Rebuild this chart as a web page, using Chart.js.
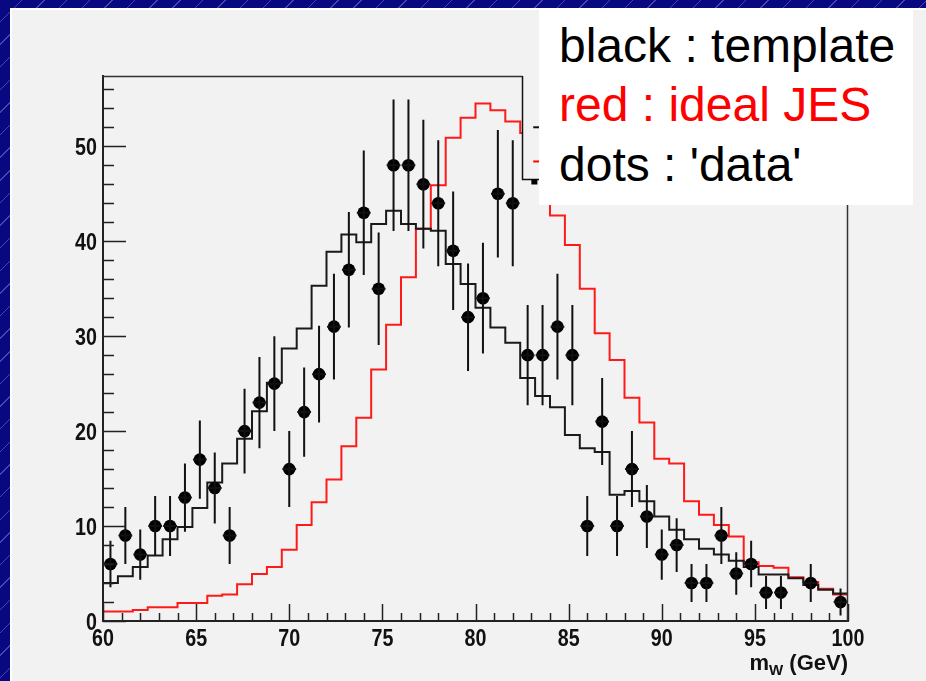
<!DOCTYPE html>
<html>
<head>
<meta charset="utf-8">
<script src="https://cdn.jsdelivr.net/npm/chart.js@4.4.0/dist/chart.umd.min.js"></script>
<style>
  html, body { margin: 0; padding: 0; width: 926px; height: 681px; overflow: hidden; }
  body {
    position: relative;
    background-color: #080880;
    background-image: repeating-linear-gradient(135deg, rgba(0,0,0,0) 0px, rgba(0,0,0,0) 15px, rgba(150,150,225,0.45) 15px, rgba(150,150,225,0.45) 16px);
  }
  #panel { position: absolute; left: 10px; top: 8px; right: 0; bottom: 0; background: #f2f2f2; border-top: 2px solid #fff; border-left: 2px solid #fff; }
  #wrap { position: absolute; left: 0; top: 0; width: 926px; height: 681px; }
  #note { position: absolute; left: 539px; top: 9px; width: 374px; height: 196px; background: #fff; font-family: "Liberation Sans", Arial, sans-serif; font-size: 48px; }
  #note div { position: absolute; left: 20px; line-height: 48px; white-space: nowrap; }
</style>
</head>
<body>
<div id="panel"></div>
<div id="wrap"><canvas id="histChart" width="926" height="681"></canvas></div>
<div id="note">
  <div style="top:13px;color:#000">black : template</div>
  <div style="top:72px;color:#ff0000">red : ideal JES</div>
  <div style="top:132px;color:#000">dots : 'data'</div>
</div>
<script>
// binning: 50 bins of 0.8 GeV between 60 and 100
const binLow = 60, binWidth = 0.8, nBins = 50;

// black histogram (template)
const templateVals = [4.0, 4.7, 5.7, 6.9, 8.6, 9.9, 11.9, 14.6, 16.6, 19.2,
  22.1, 25.1, 28.7, 30.8, 35.3, 38.9, 40.7, 39.9, 41.8, 43.2,
  41.8, 41.3, 41.1, 37.6, 35.5, 33.0, 30.9, 29.3, 25.6, 23.7,
  22.5, 19.6, 18.2, 17.8, 13.3, 13.7, 12.6, 11.0, 9.6, 8.6,
  7.6, 7.0, 6.35, 5.7, 4.9, 4.9, 4.5, 3.8, 3.3, 2.9];

// red histogram (ideal JES)
const idealVals = [1.0, 1.0, 1.16, 1.44, 1.44, 1.9, 1.9, 2.67, 2.8, 3.86,
  4.95, 5.7, 7.5, 10.1, 12.5, 14.9, 18.4, 21.4, 26.5, 31.2,
  36.2, 41.3, 45.9, 50.9, 53.0, 54.5, 53.8, 52.6, 51.4, 47.5,
  42.7, 39.6, 35.0, 30.3, 27.5, 23.5, 20.9, 17.1, 16.6, 12.6,
  11.2, 10.1, 8.9, 6.2, 5.8, 5.6, 4.6, 4.1, 3.4, 2.8];

// 'data' points and their errors (empty bins = null)
const dataVals = [6, 9, 7, 10, 10, 13, 17, 14, 9, 20,
  23, 25, 16, 22, 26, 31, 37, 43, 35, 48,
  48, 46, 44, 39, 32, 34, 45, 44, 28, 28,
  31, 28, 10, 21, 10, 16, 11, 7, 8, 4,
  4, 9, 5, 6, 3, 3, null, 4, null, 2];
const dataErrs = [2.45, 3.0, 2.65, 3.16, 3.16, 3.6, 4.12, 3.74, 3.0, 4.47,
  4.8, 5.0, 4.0, 4.69, 5.1, 5.57, 6.08, 6.56, 5.92, 6.93,
  6.93, 6.78, 6.63, 6.24, 5.66, 5.83, 6.71, 6.63, 5.29, 5.29,
  5.57, 5.29, 3.16, 4.58, 3.16, 4.0, 3.32, 2.65, 2.83, 2.0,
  2.0, 3.0, 2.24, 2.45, 1.73, 1.73, null, 2.0, null, 1.41];

const xTicks = [60, 65, 70, 75, 80, 85, 90, 95, 100];
const yTicks = [0, 10, 20, 30, 40, 50];
const yMax = 57.4;

const labelFont = "'Liberation Sans', Arial, sans-serif";

function histPoints(vals) {
    const pts = vals.map((v, i) => ({ x: binLow + i * binWidth, y: v }));
    pts.push({ x: binLow + nBins * binWidth, y: vals[vals.length - 1] });
    return pts;
}

const dataPoints = dataVals.map((v, i) => ({ x: binLow + (i + 0.5) * binWidth, y: v, err: dataErrs[i] }));

// narrow bold label like the root canvas
function narrowText(ctx, text, x, y, align) {
    ctx.save();
    ctx.translate(x, y);
    ctx.scale(0.82, 1);
    ctx.textAlign = align;
    ctx.fillText(text, 0, 0);
    ctx.restore();
}

// frame, inner tick marks, error bars, labels and the covered root legend
const rootStyle = {
    id: 'rootStyle',
    afterDatasetsDraw(chart) {
        const ctx = chart.ctx, xs = chart.scales.x, ys = chart.scales.y, area = chart.chartArea;
        ctx.save();
        // error bars
        ctx.strokeStyle = '#111';
        ctx.lineWidth = 2;
        dataPoints.forEach(p => {
            if (p.y === null) return;
            const px = xs.getPixelForValue(p.x);
            ctx.beginPath();
            ctx.moveTo(px, ys.getPixelForValue(p.y - p.err));
            ctx.lineTo(px, ys.getPixelForValue(p.y + p.err));
            ctx.moveTo(xs.getPixelForValue(p.x - 0.37), ys.getPixelForValue(p.y));
            ctx.lineTo(xs.getPixelForValue(p.x + 0.37), ys.getPixelForValue(p.y));
            ctx.stroke();
        });
        // ticks inside the frame
        ctx.strokeStyle = '#222';
        ctx.lineWidth = 1.5;
        ctx.beginPath();
        for (let v = 60; v <= 100; v++) {
            const px = Math.round(xs.getPixelForValue(v)) + 0.5;
            const len = v % 5 === 0 ? 17 : 8;
            ctx.moveTo(px, area.bottom);
            ctx.lineTo(px, area.bottom - len);
        }
        for (let v = 0; v <= 56; v += 2) {
            const py = Math.round(ys.getPixelForValue(v)) + 0.5;
            const len = v % 10 === 0 ? 23 : 11;
            ctx.moveTo(area.left, py);
            ctx.lineTo(area.left + len, py);
        }
        ctx.stroke();
        // frame top and right
        ctx.strokeStyle = '#333';
        ctx.beginPath();
        ctx.moveTo(area.left, area.top + 0.5);
        ctx.lineTo(area.right, area.top + 0.5);
        ctx.moveTo(area.right - 0.5, area.top);
        ctx.lineTo(area.right - 0.5, area.bottom);
        ctx.stroke();
        // root legend box hiding the top right corner
        const lx = Math.round(xs.getPixelForValue(82.5)) + 0.5;
        const ly = Math.round(ys.getPixelForValue(46.6)) + 0.5;
        ctx.fillStyle = '#f2f2f2';
        ctx.fillRect(lx, area.top - 2, area.right + 40 - lx, ly - area.top + 2);
        ctx.strokeStyle = '#111';
        ctx.beginPath();
        ctx.moveTo(lx, area.top);
        ctx.lineTo(lx, ly);
        ctx.lineTo(area.right + 40, ly);
        ctx.stroke();
        ctx.lineWidth = 2;
        ctx.beginPath();
        ctx.moveTo(xs.getPixelForValue(83.1), ys.getPixelForValue(52.0));
        ctx.lineTo(xs.getPixelForValue(84), ys.getPixelForValue(52.0));
        ctx.stroke();
        ctx.strokeStyle = '#ff0000';
        ctx.beginPath();
        ctx.moveTo(xs.getPixelForValue(83.1), ys.getPixelForValue(48.4));
        ctx.lineTo(xs.getPixelForValue(84), ys.getPixelForValue(48.4));
        ctx.stroke();
        ctx.fillStyle = '#000';
        ctx.fillRect(xs.getPixelForValue(83.0), ly, 6, 5);
        // tick labels from the scales
        ctx.fillStyle = '#111';
        ctx.font = 'bold 24px ' + labelFont;
        ctx.textBaseline = 'alphabetic';
        xs.ticks.forEach(t => narrowText(ctx, String(t.value), xs.getPixelForValue(t.value), area.bottom + 25, 'center'));
        ys.ticks.forEach(t => narrowText(ctx, String(t.value), area.left - 6, ys.getPixelForValue(t.value) + 8.6, 'right'));
        // axis title m_W (GeV)
        ctx.font = 'bold 22px ' + labelFont;
        const tail = ' (GeV)';
        const wTail = ctx.measureText(tail).width;
        const wM = ctx.measureText('m').width;
        ctx.font = 'bold 15px ' + labelFont;
        const wSub = ctx.measureText('W').width;
        const tx = area.right - wTail - wSub - wM;
        const base = area.bottom + 49;
        ctx.font = 'bold 22px ' + labelFont;
        ctx.fillText('m', tx, base);
        ctx.font = 'bold 15px ' + labelFont;
        ctx.fillText('W', tx + wM, base + 5);
        ctx.font = 'bold 22px ' + labelFont;
        ctx.fillText(tail, tx + wM + wSub, base);
        ctx.restore();
    }
};

const ctx = document.getElementById('histChart').getContext('2d');
const histChart = new Chart(ctx, {
    type: 'scatter',
    data: {
        datasets: [{
            label: 'dots',
            data: dataPoints,
            pointRadius: 6.3,
            pointHoverRadius: 6.3,
            pointBackgroundColor: '#000',
            pointBorderWidth: 0,
            showLine: false,
            order: 0
        }, {
            label: 'template',
            type: 'line',
            data: histPoints(templateVals),
            stepped: true,
            borderColor: '#1a1a1a',
            borderWidth: 2,
            pointRadius: 0,
            fill: false,
            order: 1
        }, {
            label: 'ideal JES',
            type: 'line',
            data: histPoints(idealVals),
            stepped: true,
            borderColor: '#ff1a1a',
            borderWidth: 2,
            pointRadius: 0,
            fill: false,
            order: 2
        }]
    },
    options: {
        responsive: false,
        animation: false,
        layout: { padding: { left: 0, top: 76, right: 78, bottom: 0 } },
        plugins: { legend: { display: false }, tooltip: { enabled: false } },
        scales: {
            x: {
                type: 'linear',
                min: 60,
                max: 100,
                afterBuildTicks: s => { s.ticks = xTicks.map(v => ({ value: v })); },
                afterFit: s => { s.height = 60; },
                grid: { display: false, drawTicks: false },
                border: { display: true, color: '#222', width: 2 },
                ticks: { display: false }
            },
            y: {
                min: 0,
                max: yMax,
                afterBuildTicks: s => { s.ticks = yTicks.map(v => ({ value: v })); },
                afterFit: s => { s.width = 103; },
                grid: { display: false, drawTicks: false },
                border: { display: true, color: '#222', width: 2 },
                ticks: { display: false }
            }
        }
    },
    plugins: [rootStyle]
});
</script>
</body>
</html>
